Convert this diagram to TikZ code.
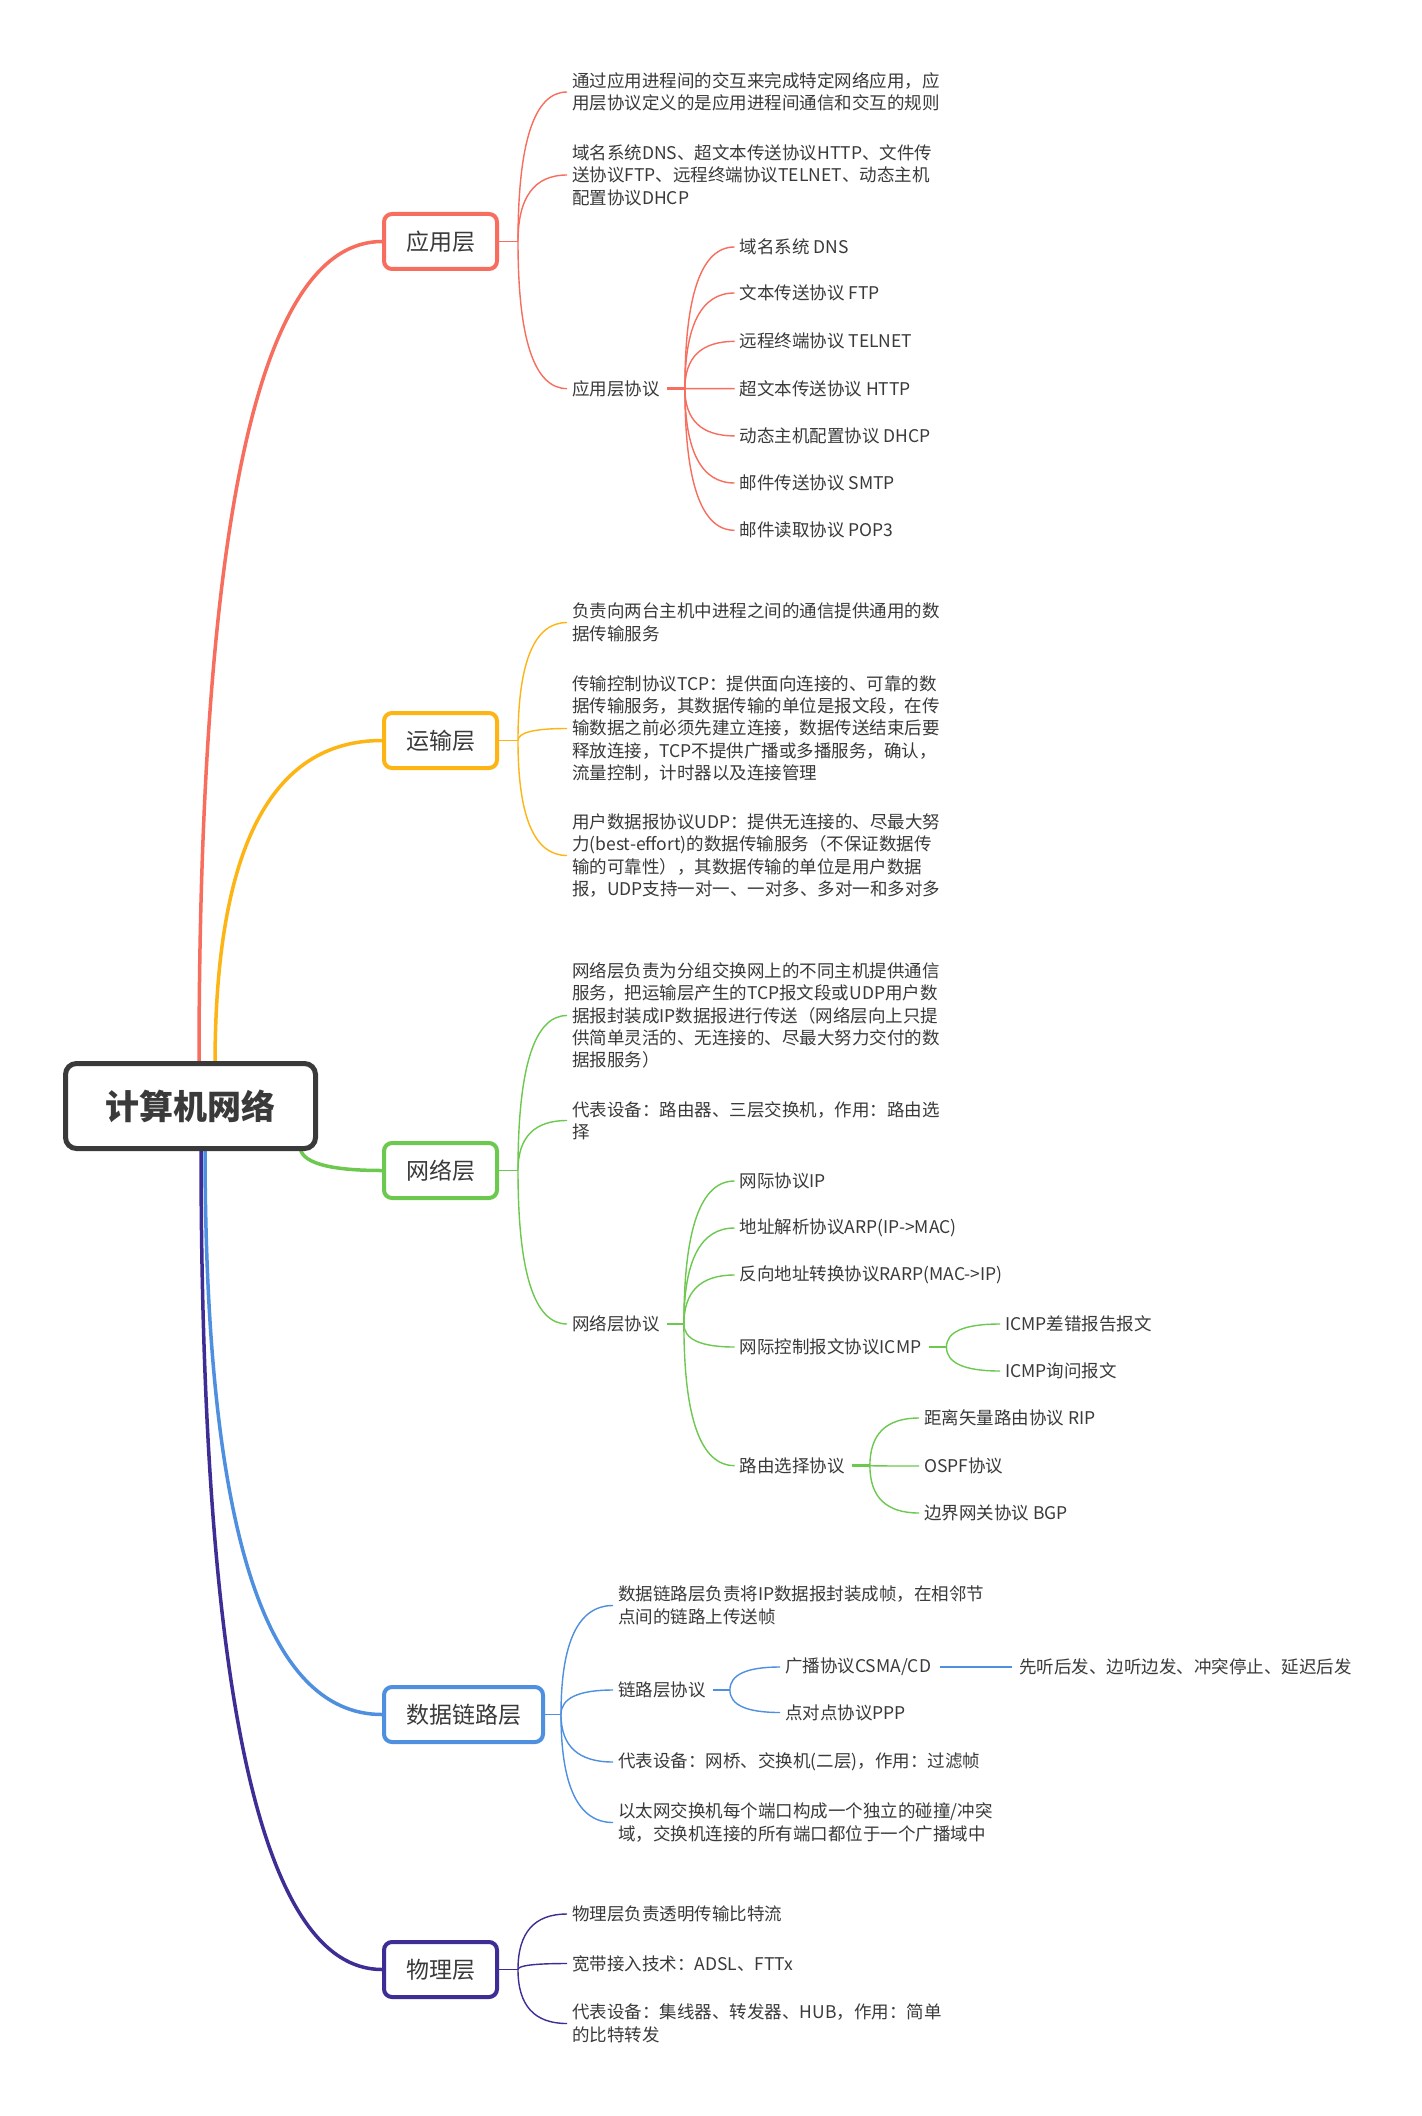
\documentclass[tikz,border=0pt]{standalone}
\usepackage{fontspec}
\setmainfont{Noto Sans CJK SC}
\usetikzlibrary{calc}
\definecolor{cred}{HTML}{F76D5E}
\definecolor{corange}{HTML}{FDB515}
\definecolor{cgreen}{HTML}{6CC84E}
\definecolor{cblue}{HTML}{4E8FE0}
\definecolor{cpurple}{HTML}{3E2D94}
\definecolor{txt}{HTML}{3A3A3A}
\pgfdeclarelayer{bg}
\pgfdeclarelayer{paper}
\pgfsetlayers{paper,bg,main}
\tikzset{
  xm/.style={to path={.. controls ($(\tikztostart)!0.667!(\tikztostart |- \tikztotarget)$) and ($(\tikztotarget)!0.667!(\tikztostart |- \tikztotarget)$) .. (\tikztotarget) \tikztonodes}},
  det/.style={anchor=west, inner sep=0pt, align=left, text=txt, font=\fontsize{17.5}{22.4}\selectfont},
  layerbox/.style={draw=#1, rounded corners=8pt, line width=4pt, fill=white, minimum height=55pt, minimum width=113pt, inner sep=0pt, text=txt, font=\fontsize{23}{26}\selectfont},
  rootbox/.style={draw=txt, rounded corners=11pt, line width=5pt, fill=white, minimum height=85pt, minimum width=250pt, inner sep=0pt, text=txt, font=\fontsize{34}{38}\selectfont\bfseries},
  mainline/.style={line width=3.5pt, line cap=round},
  twig/.style={line width=1.4pt},
  stub/.style={line width=2.8pt},
}
\begin{document}
\begin{tikzpicture}[x=1pt,y=-1pt]
\begin{pgfonlayer}{paper}
\fill[white] (0,0) rectangle (1421,2116);
\end{pgfonlayer}
\useasboundingbox (0,0) rectangle (1421,2116);

% root and layers
\node[rootbox] (root) at (190.5,1106) {计算机网络};
\node[layerbox=cred] (L1) at (440.5,241.5) {应用层};
\node[layerbox=corange] (L2) at (440.5,740.5) {运输层};
\node[layerbox=cgreen] (L3) at (440.5,1170.5) {网络层};
\node[layerbox=cblue, minimum width=159pt] (L4) at (463.5,1714.5) {数据链路层};
\node[layerbox=cpurple] (L5) at (440.5,1969.5) {物理层};

\coordinate (r1) at (199,1066);
\coordinate (r2) at (215,1066);
\coordinate (r3) at (300,1146);
\coordinate (r4) at (205,1146);
\coordinate (r5) at (201,1146);

% ---------- application layer ----------
\node[det] (a1) at (572,92) {通过应用进程间的交互来完成特定网络应用，应\\用层协议定义的是应用进程间通信和交互的规则};
\node[det] (a2) at (572,175) {域名系统DNS、超文本传送协议HTTP、文件传\\送协议FTP、远程终端协议TELNET、动态主机\\配置协议DHCP};
\node[det] (a3) at (572,388.6) {应用层协议};
\node[det] (a31) at (739.5,247) {域名系统 DNS};
\node[det] (a32) at (739.5,293) {文本传送协议 FTP};
\node[det] (a33) at (739.5,341.4) {远程终端协议 TELNET};
\node[det] (a34) at (739.5,388.6) {超文本传送协议 HTTP};
\node[det] (a35) at (739.5,435.9) {动态主机配置协议 DHCP};
\node[det] (a36) at (739.5,483) {邮件传送协议 SMTP};
\node[det] (a37) at (739.5,530.3) {邮件读取协议 POP3};
\coordinate (j1) at (518,241.5);
\coordinate (j1s) at ([xshift=7pt]a3.east);
\coordinate (j1p) at ([xshift=25pt]a3.east);

% ---------- transport layer ----------
\node[det] (t1) at (572,622.5) {负责向两台主机中进程之间的通信提供通用的数\\据传输服务};
\node[det] (t2) at (572,728.5) {传输控制协议TCP：提供面向连接的、可靠的数\\据传输服务，其数据传输的单位是报文段，在传\\输数据之前必须先建立连接，数据传送结束后要\\释放连接，TCP不提供广播或多播服务，确认，\\流量控制，计时器以及连接管理};
\node[det] (t3) at (572,855.5) {用户数据报协议UDP：提供无连接的、尽最大努\\力(best-effort)的数据传输服务（不保证数据传\\输的可靠性），其数据传输的单位是用户数据\\报，UDP支持一对一、一对多、多对一和多对多};
\coordinate (j2) at (518,740.5);

% ---------- network layer ----------
\node[det] (n1) at (572,1015.5) {网络层负责为分组交换网上的不同主机提供通信\\服务，把运输层产生的TCP报文段或UDP用户数\\据报封装成IP数据报进行传送（网络层向上只提\\供简单灵活的、无连接的、尽最大努力交付的数\\据报服务）};
\node[det] (n2) at (572,1120.5) {代表设备：路由器、三层交换机，作用：路由选\\择};
\node[det] (n3) at (572,1324) {网络层协议};
\node[det] (n31) at (739.5,1181) {网际协议IP};
\node[det] (n32) at (739.5,1228) {地址解析协议ARP(IP->MAC)};
\node[det] (n33) at (739.5,1275) {反向地址转换协议RARP(MAC->IP)};
\node[det] (n34) at (739.5,1347) {网际控制报文协议ICMP};
\node[det] (n35) at (739.5,1465.6) {路由选择协议};
\node[det] (n341) at (1005,1324) {ICMP差错报告报文};
\node[det] (n342) at (1005,1371) {ICMP询问报文};
\node[det] (n351) at (924,1418) {距离矢量路由协议 RIP};
\node[det] (n352) at (924,1466) {OSPF协议};
\node[det] (n353) at (924,1513) {边界网关协议 BGP};
\coordinate (j3) at (518,1170.5);
\coordinate (j3s) at ([xshift=7pt]n3.east);
\coordinate (j3p) at ([xshift=24pt]n3.east);
\coordinate (j34s) at ([xshift=8pt]n34.east);
\coordinate (j34p) at ([xshift=25pt]n34.east);
\coordinate (j35s) at ([xshift=7pt]n35.east);
\coordinate (j35p) at ([xshift=25pt]n35.east);

% ---------- data link layer ----------
\node[det] (d1) at (618,1605.5) {数据链路层负责将IP数据报封装成帧，在相邻节\\点间的链路上传送帧};
\node[det] (d2) at (618,1690) {链路层协议};
\node[det] (d3) at (618,1762) {代表设备：网桥、交换机(二层)，作用：过滤帧};
\node[det] (d4) at (618,1822.5) {以太网交换机每个端口构成一个独立的碰撞/冲突\\域，交换机连接的所有端口都位于一个广播域中};
\node[det] (d21) at (785,1667) {广播协议CSMA/CD};
\node[det] (d22) at (785,1712.5) {点对点协议PPP};
\node[det] (d211) at (1019,1667) {先听后发、边听边发、冲突停止、延迟后发};
\coordinate (j4) at (561,1714.5);
\coordinate (j4s) at ([xshift=7pt]d2.east);
\coordinate (j4p) at ([xshift=24pt]d2.east);

% ---------- physical layer ----------
\node[det] (p1) at (572,1914) {物理层负责透明传输比特流};
\node[det] (p2) at (572,1963.5) {宽带接入技术：ADSL、FTTx};
\node[det] (p3) at (572,2023.5) {代表设备：集线器、转发器、HUB，作用：简单\\的比特转发};
\coordinate (j5) at (518,1969.5);

\begin{pgfonlayer}{bg}
% main branches
\draw[mainline, cred] (r1) to[xm] (L1.west);
\draw[mainline, corange] (r2) to[xm] (L2.west);
\draw[mainline, cgreen] (r3) to[xm] (L3.west);
\draw[mainline, cblue] (r4) to[xm] (L4.west);
\draw[mainline, cpurple] (r5) to[xm] (L5.west);

% application
\draw[twig, cred] (L1.east) -- (j1);
\foreach \c in {a1,a2,a3} \draw[twig, cred] (j1) to[xm] ([xshift=-5pt]\c.west);
\draw[stub, cred] (j1s) -- (j1p);
\foreach \c in {a31,a32,a33,a34,a35,a36,a37} \draw[twig, cred] (j1p) to[xm] ([xshift=-5pt]\c.west);

% transport
\draw[twig, corange] (L2.east) -- (j2);
\foreach \c in {t1,t2,t3} \draw[twig, corange] (j2) to[xm] ([xshift=-5pt]\c.west);

% network
\draw[twig, cgreen] (L3.east) -- (j3);
\foreach \c in {n1,n2,n3} \draw[twig, cgreen] (j3) to[xm] ([xshift=-5pt]\c.west);
\draw[stub, cgreen] (j3s) -- (j3p);
\foreach \c in {n31,n32,n33,n34,n35} \draw[twig, cgreen] (j3p) to[xm] ([xshift=-5pt]\c.west);
\draw[stub, cgreen] (j34s) -- (j34p);
\foreach \c in {n341,n342} \draw[twig, cgreen] (j34p) to[xm] ([xshift=-5pt]\c.west);
\draw[stub, cgreen] (j35s) -- (j35p);
\foreach \c in {n351,n352,n353} \draw[twig, cgreen] (j35p) to[xm] ([xshift=-5pt]\c.west);

% data link
\draw[twig, cblue] (L4.east) -- (j4);
\foreach \c in {d1,d2,d3,d4} \draw[twig, cblue] (j4) to[xm] ([xshift=-5pt]\c.west);
\draw[stub, cblue] (j4s) -- (j4p);
\foreach \c in {d21,d22} \draw[twig, cblue] (j4p) to[xm] ([xshift=-5pt]\c.west);
\draw[twig, cblue] ([xshift=9pt]d21.east) -- ([xshift=-7pt]d211.west);

% physical
\draw[twig, cpurple] (L5.east) -- (j5);
\foreach \c in {p1,p2,p3} \draw[twig, cpurple] (j5) to[xm] ([xshift=-5pt]\c.west);
\end{pgfonlayer}
\end{tikzpicture}
\end{document}
